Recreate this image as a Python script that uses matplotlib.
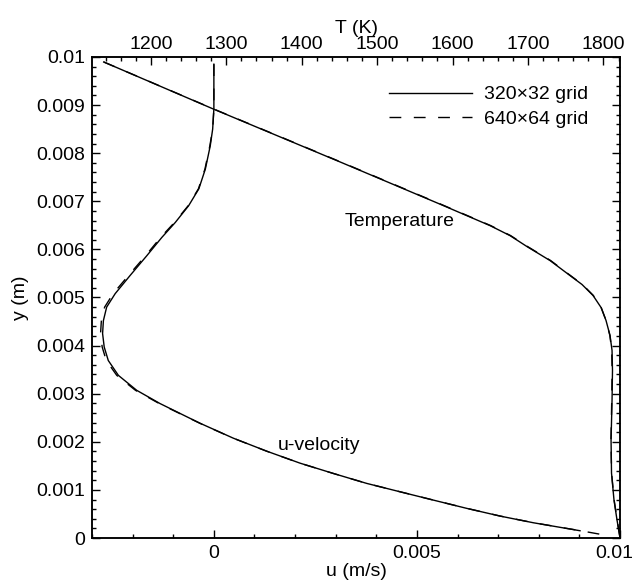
"""Velocity and temperature profiles for two grid resolutions."""

import matplotlib

matplotlib.use("Agg")
import matplotlib.pyplot as plt  # noqa: E402
import matplotlib.transforms as mtransforms  # noqa: E402
from matplotlib.ticker import FixedLocator, MultipleLocator  # noqa: E402

plt.rcParams["font.family"] = ["Liberation Sans", "DejaVu Sans"]

# u-velocity profiles (m/s) vs y (m)
y_u_coarse = [0.00985, 0.00892, 0.00850, 0.00815, 0.00767, 0.00726, 0.00691, 0.00656,
              0.00625, 0.00587, 0.00546, 0.00508, 0.00480, 0.00452, 0.00425, 0.00397,
              0.00369, 0.00338, 0.00307, 0.002795, 0.002521, 0.002386, 0.002075, 0.001805,
              0.001556, 0.001342, 0.001135, 0.000961, 0.000788, 0.000616, 0.000456,
              0.000317, 0.000151]
u_coarse = [0.0, 0.0, -0.00003, -0.00009, -0.00021, -0.00037, -0.00062, -0.00095,
            -0.00128, -0.00165, -0.00206, -0.00243, -0.00264, -0.00272, -0.00274, -0.00270,
            -0.00260, -0.00235, -0.00190, -0.001326, -0.000668, -0.000341, 0.000479, 0.001301,
            0.002121, 0.002941, 0.003763, 0.004583, 0.005403, 0.006226, 0.007045,
            0.007865, 0.009015]

y_u_fine = [0.00985, 0.00892, 0.00850, 0.00815, 0.00767, 0.00726, 0.00691, 0.00656,
            0.00625, 0.00587, 0.00546, 0.00508, 0.00480, 0.00452, 0.00425, 0.00397,
            0.00369, 0.00338, 0.00307, 0.002795, 0.002521, 0.002386, 0.002075, 0.001805,
            0.001556, 0.001342, 0.001135, 0.000961, 0.000788, 0.000616, 0.000456,
            0.000317, 0.000151, 0.000078]
u_fine = [0.0, 0.0, -0.00003, -0.00010, -0.00022, -0.00038, -0.00063, -0.00097,
          -0.00131, -0.00168, -0.00210, -0.00248, -0.00269, -0.00277, -0.00279, -0.00275,
          -0.00265, -0.00239, -0.00193, -0.001345, -0.000678, -0.000348, 0.000475, 0.001298,
          0.002119, 0.002940, 0.003763, 0.004585, 0.005406, 0.006230, 0.007050,
          0.007872, 0.009030, 0.009510]

# temperature profiles (K) vs y (m)
y_T_coarse = [0.009896, 0.008915, 0.007801, 0.006940, 0.006494, 0.006286, 0.006058,
              0.005768, 0.005456, 0.005270, 0.005042, 0.004793, 0.004523, 0.004212,
              0.003900, 0.003485, 0.002863, 0.002033, 0.001349, 0.000788, 0.000373, 0.0]
T_coarse = [1137.5, 1283.3, 1453.4, 1583.4, 1649.7, 1676.2, 1698.7,
            1729.2, 1755.7, 1771.6, 1786.2, 1796.8, 1803.4, 1808.7,
            1811.4, 1812.0, 1811.4, 1810.1, 1810.7, 1814.0, 1818.0, 1822.0]

y_T_fine = [0.009896, 0.008915, 0.007801, 0.006940, 0.006494, 0.006286, 0.006058,
            0.005768, 0.005456, 0.005270, 0.005042, 0.004793, 0.004523, 0.004212,
            0.003900, 0.003485, 0.002863, 0.002033, 0.001349, 0.000788, 0.000373, 0.0]
T_fine = [1137.5, 1283.8, 1454.2, 1584.3, 1650.6, 1677.0, 1699.5,
          1730.0, 1756.3, 1772.2, 1786.6, 1797.0, 1803.4, 1808.5,
          1811.0, 1811.5, 1811.0, 1810.0, 1810.8, 1814.2, 1818.2, 1822.0]

y_ticks = [0, 0.001, 0.002, 0.003, 0.004, 0.005, 0.006, 0.007, 0.008, 0.009, 0.01]
y_labels = ["0", "0.001", "0.002", "0.003", "0.004", "0.005",
            "0.006", "0.007", "0.008", "0.009", "0.01"]
u_ticks = [0, 0.005, 0.01]
u_labels = ["0", "0.005", "0.01"]
T_ticks = [1200, 1300, 1400, 1500, 1600, 1700, 1800]
T_labels = ["1200", "1300", "1400", "1500", "1600", "1700", "1800"]

FS = 14
solid = dict(color="black", lw=1.0, linestyle="-")
dashed = dict(color="black", lw=1.0, linestyle=(0, (8.5, 9)))

fig = plt.figure(figsize=(6.36, 5.82), dpi=100)
ax = fig.add_axes([0.1447, 0.0756, 0.8302, 0.8265])
ax2 = ax.twiny()

ax.plot(u_fine, y_u_fine, **dashed)
ax.plot(u_coarse, y_u_coarse, **solid)
ax2.plot(T_fine, y_T_fine, label="640\u00d764 grid", **dashed)
ax2.plot(T_coarse, y_T_coarse, label="320\u00d732 grid", **solid)

ax.set_xlim(-0.003, 0.01)
ax.set_ylim(0, 0.01)
ax2.set_xlim(1122, 1822)

ax.xaxis.set_major_locator(FixedLocator(u_ticks))
ax.set_xticklabels(u_labels)
ax.xaxis.set_minor_locator(MultipleLocator(0.001))
ax.yaxis.set_major_locator(FixedLocator(y_ticks))
ax.set_yticklabels(y_labels)
ax.yaxis.set_minor_locator(MultipleLocator(0.0002))
ax2.xaxis.set_major_locator(FixedLocator(T_ticks))
ax2.set_xticklabels(T_labels)
ax2.xaxis.set_minor_locator(MultipleLocator(20))

ax.tick_params(which="both", direction="in", right=True, top=False,
               labelsize=FS, width=1.0)
ax.tick_params(which="major", length=6, pad=5)
ax.tick_params(which="minor", length=3)
ax2.tick_params(which="both", direction="in", labelsize=FS, width=1.0)
ax2.tick_params(which="major", length=6, pad=3)
ax2.tick_params(which="minor", length=3)

# nudge the last bottom label so it stays inside the canvas, as in the source
last = ax.get_xticklabels()[-1]
last.set_transform(last.get_transform()
                   + mtransforms.ScaledTranslation(-4 / 72, 0, fig.dpi_scale_trans))

for a in (ax, ax2):
    for s in a.spines.values():
        s.set_linewidth(1.1)

ax.set_xlabel("u (m/s)", fontsize=FS, labelpad=1)
ax.set_ylabel("y (m)", fontsize=FS, labelpad=5)
ax2.set_xlabel("T (K)", fontsize=FS, labelpad=2)

ax2.text(1530, 0.00659, "Temperature", fontsize=FS, ha="center", va="center")
ax.text(0.0026, 0.00193, "u-velocity", fontsize=FS, ha="center", va="center")

handles, labels = ax2.get_legend_handles_labels()
ax2.legend(handles[::-1], labels[::-1], loc="upper right", frameon=False,
           fontsize=FS, handlelength=4.3, handletextpad=0.6, labelspacing=0.35,
           borderaxespad=0, borderpad=0, bbox_to_anchor=(0.94, 0.94))

fig.savefig("out.png", dpi=100)
